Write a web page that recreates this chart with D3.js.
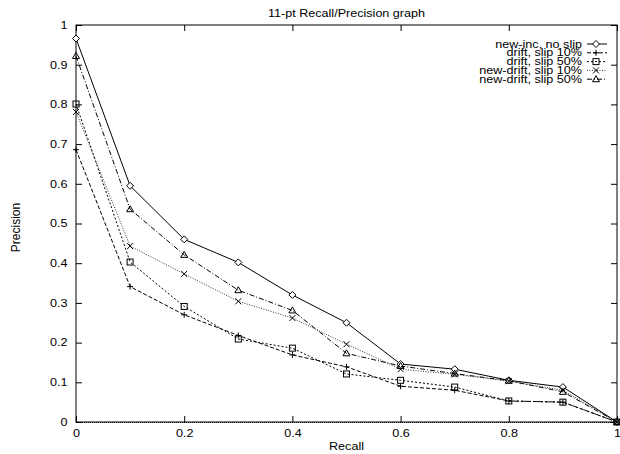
<!DOCTYPE html>
<html>
<head>
<meta charset="utf-8">
<script src="https://cdnjs.cloudflare.com/ajax/libs/d3/7.8.5/d3.min.js"></script>
<style>
  body { margin: 0; background: #fff; }
  text { font-family: "Liberation Sans", Arial, sans-serif; font-size: 10.5px; fill: #000; }
</style>
</head>
<body>
<div id="plot"></div>
<script>
var recall = [0, 0.1, 0.2, 0.3, 0.4, 0.5, 0.6, 0.7, 0.8, 0.9, 1];

var newInc     = [0.966, 0.595, 0.460, 0.402, 0.320, 0.250, 0.146, 0.133, 0.105, 0.088, 0];
var drift10    = [0.686, 0.341, 0.270, 0.218, 0.169, 0.139, 0.090, 0.080, 0.053, 0.050, 0];
var drift50    = [0.801, 0.403, 0.291, 0.209, 0.186, 0.121, 0.105, 0.088, 0.053, 0.050, 0];
var newDrift10 = [0.781, 0.443, 0.373, 0.304, 0.262, 0.196, 0.133, 0.120, 0.103, 0.080, 0];
var newDrift50 = [0.922, 0.536, 0.421, 0.332, 0.281, 0.173, 0.141, 0.122, 0.104, 0.076, 0];

var seriesNames = ["new-inc, no slip", "drift, slip 10%", "drift, slip 50%", "new-drift, slip 10%", "new-drift, slip 50%"];

var xTicks = [0, 0.2, 0.4, 0.6, 0.8, 1];
var yTicks = [0, 0.1, 0.2, 0.3, 0.4, 0.5, 0.6, 0.7, 0.8, 0.9, 1];

const w = 620;
const h = 454;
const plotLeft = 76, plotRight = 617, plotTop = 25, plotBottom = 422;
const stretch = 1.2; // the original text is a bit wide

const series = [
  { name: seriesNames[0], values: newInc,     dash: null,      marker: "diamond", stroke: "#000" },
  { name: seriesNames[1], values: drift10,    dash: "4,2",     marker: "plus",    stroke: "#000" },
  { name: seriesNames[2], values: drift50,    dash: "2,2",     marker: "square",  stroke: "#000" },
  { name: seriesNames[3], values: newDrift10, dash: "1,1.5",   marker: "cross",   stroke: "#333" },
  { name: seriesNames[4], values: newDrift50, dash: "5,2,1,2", marker: "triangle", stroke: "#000" },
];

const xScale = d3.scaleLinear().domain([0, 1]).range([plotLeft, plotRight]);
const yScale = d3.scaleLinear().domain([0, 1]).range([plotBottom, plotTop]);

const svg = d3.select("div#plot")
  .append("svg")
  .attr("width", w)
  .attr("height", h);

const fmt = d => d === 0 ? "0" : d === 1 ? "1" : d3.format(".1f")(d);

// axes with inward ticks, mirrored on top/right
svg.append("g")
  .attr("transform", `translate(0, ${plotBottom})`)
  .call(d3.axisBottom(xScale).tickValues(xTicks).tickFormat(fmt).tickSizeInner(-6).tickSizeOuter(0).tickPadding(8))
  .call(g => g.select(".domain").remove());
svg.append("g")
  .attr("transform", `translate(0, ${plotTop})`)
  .call(d3.axisTop(xScale).tickValues(xTicks).tickFormat("").tickSizeInner(-6).tickSizeOuter(0))
  .call(g => g.select(".domain").remove());
svg.append("g")
  .attr("transform", `translate(${plotLeft}, 0)`)
  .call(d3.axisLeft(yScale).tickValues(yTicks).tickFormat(fmt).tickSizeInner(-6).tickSizeOuter(0).tickPadding(7))
  .call(g => g.select(".domain").remove());
svg.append("g")
  .attr("transform", `translate(${plotRight}, 0)`)
  .call(d3.axisRight(yScale).tickValues(yTicks).tickFormat("").tickSizeInner(-6).tickSizeOuter(0))
  .call(g => g.select(".domain").remove());

svg.selectAll(".tick text")
  .style("font-size", "10.5px")
  .style("font-family", "'Liberation Sans', Arial, sans-serif")
  .attr("fill", "#000")
  .attr("transform", `scale(${stretch},1)`);
svg.selectAll(".tick line").attr("stroke", "#000");

// border
svg.append("rect")
  .attr("x", xScale(0)).attr("y", yScale(1))
  .attr("width", xScale(1) - xScale(0)).attr("height", yScale(0) - yScale(1))
  .attr("fill", "none").attr("stroke", "#000").attr("stroke-width", 1);

// zero axis, drawn dotted over the border like the original
svg.append("line")
  .attr("x1", xScale(0)).attr("x2", xScale(1))
  .attr("y1", yScale(0) + 0.5).attr("y2", yScale(0) + 0.5)
  .attr("stroke", "#000").attr("stroke-dasharray", "1,1");

// titles
svg.append("text")
  .attr("transform", `translate(${(plotLeft + plotRight) / 2}, 17) scale(${stretch},1)`)
  .attr("text-anchor", "middle")
  .text("11-pt Recall/Precision graph");
svg.append("text")
  .attr("transform", `translate(${(plotLeft + plotRight) / 2}, 450) scale(${stretch},1)`)
  .attr("text-anchor", "middle")
  .text("Recall");
svg.append("text")
  .attr("transform", `translate(20, ${(plotTop + plotBottom) / 2 + 4}) rotate(-90)`)
  .attr("text-anchor", "middle")
  .style("font-size", "12px")
  .text("Precision");

function drawMarker(g, type, x, y) {
  const s = 3;
  if (type === "diamond") {
    g.append("path").attr("d", `M${x},${y - s - 0.5}L${x + s + 0.5},${y}L${x},${y + s + 0.5}L${x - s - 0.5},${y}Z`)
      .attr("fill", "#fff").attr("stroke", "#000");
  } else if (type === "plus") {
    g.append("path").attr("d", `M${x - s},${y}H${x + s}M${x},${y - s}V${y + s}`)
      .attr("stroke", "#000");
  } else if (type === "square") {
    g.append("rect").attr("x", x - s).attr("y", y - s).attr("width", 2 * s).attr("height", 2 * s)
      .attr("fill", "none").attr("stroke", "#000");
  } else if (type === "cross") {
    g.append("path").attr("d", `M${x - s},${y - s}L${x + s},${y + s}M${x - s},${y + s}L${x + s},${y - s}`)
      .attr("stroke", "#000");
  } else if (type === "triangle") {
    g.append("path").attr("d", `M${x},${y - s - 0.5}L${x + s + 0.5},${y + s - 0.5}L${x - s - 0.5},${y + s - 0.5}Z`)
      .attr("fill", "none").attr("stroke", "#000");
  }
}

const line = d3.line()
  .x((d, i) => xScale(recall[i]))
  .y(d => yScale(d));

series.forEach(function (s) {
  svg.append("path")
    .datum(s.values)
    .attr("fill", "none")
    .attr("stroke", s.stroke)
    .attr("stroke-width", 1)
    .attr("stroke-dasharray", s.dash)
    .attr("d", line);
});

series.forEach(function (s) {
  const g = svg.append("g");
  s.values.forEach((v, i) => drawMarker(g, s.marker, xScale(recall[i]), yScale(v)));
});

// legend
const legend = svg.append("g");
series.forEach(function (s, i) {
  const y = 44 + i * 8.8;
  legend.append("text")
    .attr("transform", `translate(582, ${y + 3.5}) scale(${stretch},1)`)
    .attr("text-anchor", "end")
    .text(s.name);
  legend.append("line")
    .attr("x1", 587).attr("x2", 607)
    .attr("y1", y).attr("y2", y)
    .attr("stroke", s.stroke)
    .attr("stroke-dasharray", s.dash);
  drawMarker(legend, s.marker, 596, y);
});
</script>
</body>
</html>
